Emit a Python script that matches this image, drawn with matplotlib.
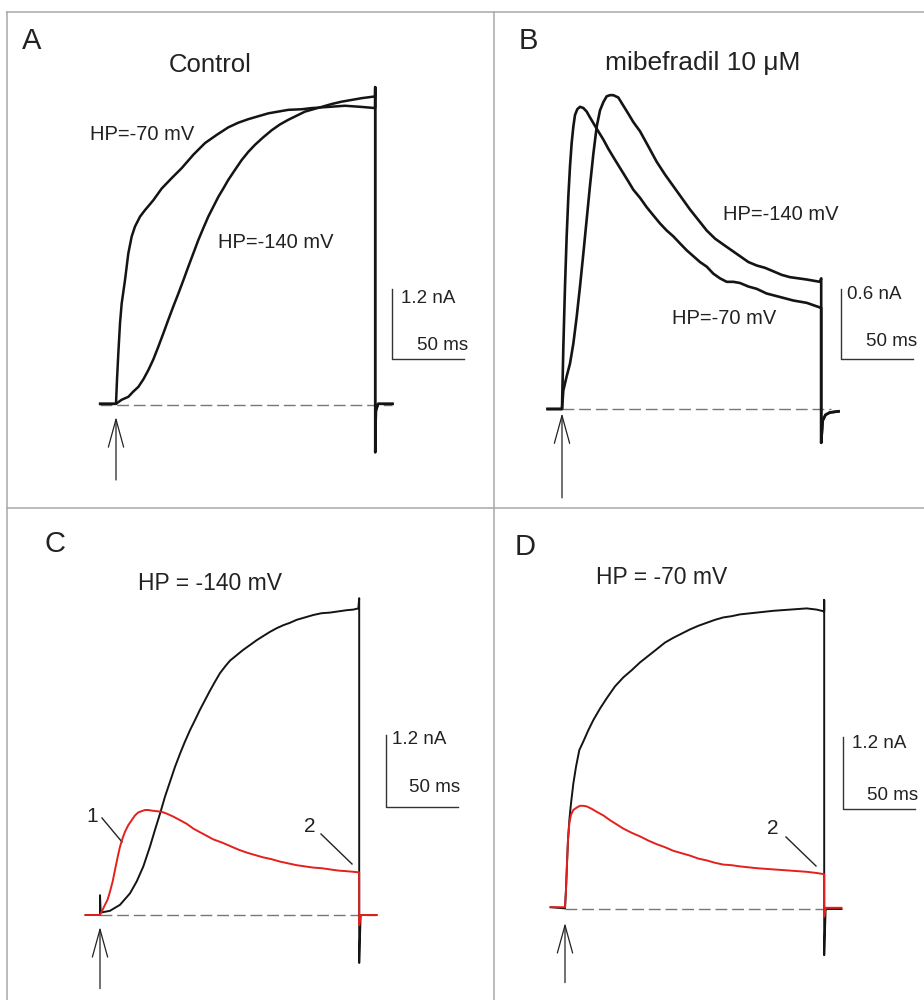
import matplotlib.pyplot as plt
from matplotlib.patches import ArrowStyle

plt.rcParams['font.family'] = ['Liberation Sans', 'DejaVu Sans']

W, H = 924, 1000
PX_MS = 1.44          # 50 ms = 72 px
BLACK = '#141414'
RED = '#e3201b'
GREY = '#777777'
TXT = '#222222'

# time in ms from the step onset, current in nA (inward current drawn upward)
# Panel A - control
a_t_140 = [-11, 0, 3.94, 8.56, 12.0, 15.5, 19.0, 22.5, 25.9, 29.4, 32.9, 36.3, 39.8, 43.3,
           46.8, 50.2, 53.7, 57.2, 60.6, 64.1, 67.6, 71.1, 74.5, 78.0, 82.6, 87.3, 91.9, 96.5,
           102.3, 108.1, 113.9, 119.7, 125.5, 131.3, 137.0, 142.8, 149.8, 156.7, 163.7, 170.6,
           179.9, 180, 180, 180.5, 182, 192]
a_i_140 = [0.02, 0.02, 0.09, 0.14, 0.23, 0.31, 0.44, 0.60, 0.78, 1.00, 1.23, 1.46, 1.69, 1.91,
           2.14, 2.37, 2.60, 2.83, 3.03, 3.23, 3.40, 3.57, 3.71, 3.86, 4.03, 4.20, 4.34, 4.46,
           4.59, 4.71, 4.81, 4.89, 4.96, 5.03, 5.07, 5.11, 5.16, 5.20, 5.23, 5.26,
           5.29, 5.45, -0.81, -0.10, 0.02, 0.02]
a_t_70 = [-11, 0, 0.69, 1.62, 2.78, 3.94, 6.25, 8.56, 10.9, 13.2, 16.7, 20.1, 25.9, 31.7, 38.7,
          45.6, 53.7, 61.8, 69.9, 78.0, 85.0, 91.9, 98.8, 105.8, 112.7, 119.7, 128.9, 135.9,
          147.5, 159.0, 170.6, 179.9, 180, 180, 180.5, 182, 192]
a_i_70 = [0.02, 0.02, 0.43, 0.89, 1.40, 1.74, 2.14, 2.60, 2.89, 3.06, 3.23, 3.34, 3.51, 3.71, 3.89,
          4.06, 4.29, 4.49, 4.63, 4.76, 4.84, 4.90, 4.95, 5.00, 5.03, 5.06, 5.07, 5.09,
          5.11, 5.13, 5.11, 5.09, 5.45, -0.81, -0.10, 0.02, 0.02]

# Panel B - mibefradil 10 uM
b_t_140 = [-10, 0, 0.93, 3.24, 5.56, 7.87, 10.2, 12.5, 14.8, 17.1, 19.4, 21.8, 24.1, 26.4, 28.7,
           31.0, 33.3, 35.6, 39.1, 42.6, 46.1, 49.5, 54.2, 60.0, 65.7, 71.5, 77.3, 83.1, 88.9,
           94.7, 100.5, 106.3, 112.0, 117.8, 123.6, 129.4, 135.2, 141.0, 146.8, 152.5, 158.3,
           164.1, 169.9, 174.5, 179.2, 180, 180, 181, 183, 186, 192]
b_i_140 = [0.0, 0.0, 0.16, 0.28, 0.39, 0.56, 0.79, 1.05, 1.33, 1.62, 1.91, 2.19, 2.42, 2.56, 2.63,
           2.68, 2.69, 2.69, 2.67, 2.60, 2.53, 2.46, 2.38, 2.25, 2.12, 2.01, 1.91, 1.81, 1.71,
           1.62, 1.53, 1.46, 1.41, 1.36, 1.31, 1.26, 1.23, 1.21, 1.18, 1.15, 1.13,
           1.12, 1.11, 1.10, 1.09, 1.12, -0.29, -0.10, -0.05, -0.03, -0.02]
b_t_70 = [-10, 0, 0.93, 2.08, 3.24, 4.40, 5.56, 6.71, 7.87, 9.03, 10.65, 12.5, 14.8, 17.1, 19.4,
          21.8, 25.2, 28.7, 32.2, 35.6, 39.1, 42.6, 46.1, 49.5, 54.2, 58.8, 63.4, 68.1, 72.7,
          77.3, 81.9, 86.6, 91.2, 95.8, 100.5, 105.1, 109.7, 114.4, 119.0, 123.6, 129.4, 135.2,
          142.1, 151.4, 160.6, 169.9, 179.2, 180, 180, 181, 183, 186, 192]
b_i_70 = [0.0, 0.0, 0.53, 1.05, 1.48, 1.82, 2.08, 2.28, 2.42, 2.52, 2.57, 2.59, 2.58, 2.55, 2.50,
          2.45, 2.38, 2.31, 2.23, 2.16, 2.09, 2.02, 1.95, 1.88, 1.81, 1.73, 1.66, 1.59, 1.53,
          1.48, 1.42, 1.36, 1.31, 1.26, 1.22, 1.16, 1.12, 1.09, 1.09, 1.08, 1.05, 1.03,
          0.99, 0.96, 0.93, 0.91, 0.87, 0.87, -0.29, -0.10, -0.05, -0.03, -0.02]

# Panel C - HP = -140 mV, control (black) and mibefradil (red)
c_t_ctl = [-10, 0, 0, 0.5, 6.94, 13.9, 20.8, 25.5, 30.1, 34.7, 38.2, 41.7, 45.1, 48.6, 52.1,
           55.6, 59.0, 62.5, 66.0, 69.4, 72.9, 76.4, 79.9, 83.3, 86.8, 90.3, 94.9, 99.5, 104.2,
           108.8, 113.4, 118.1, 122.7, 127.3, 131.9, 136.6, 142.4, 148.1, 153.9, 159.7, 165.5,
           171.3, 175.9, 179.4, 180, 180, 181, 192]
c_i_ctl = [0.0, 0.0, 0.33, 0.04, 0.07, 0.17, 0.36, 0.56, 0.81, 1.14, 1.42, 1.69, 1.97, 2.22, 2.47,
           2.69, 2.89, 3.08, 3.25, 3.42, 3.58, 3.74, 3.89, 4.03, 4.14, 4.24, 4.33, 4.42, 4.50,
           4.58, 4.65, 4.72, 4.78, 4.83, 4.87, 4.92, 4.96, 5.00, 5.03, 5.04, 5.06,
           5.08, 5.09, 5.11, 5.28, -0.80, 0.0, 0.0]
c_t_mib = [-10, 0, 1.85, 3.47, 5.32, 6.94, 8.80, 10.4, 12.3, 13.9, 15.7, 17.4, 19.7, 22.0, 24.3,
           26.6, 28.9, 31.25, 33.6, 35.9, 39.4, 42.8, 46.3, 50.9, 55.6, 60.2, 64.8, 69.4, 74.1,
           78.7, 84.5, 90.3, 96.1, 101.9, 107.6, 113.4, 119.2, 125.0, 130.8, 136.6, 142.4, 148.1,
           153.9, 159.7, 165.5, 171.3, 175.9, 180, 180, 181, 192]
c_i_mib = [0.0, 0.0, 0.09, 0.17, 0.26, 0.39, 0.56, 0.75, 0.97, 1.14, 1.28, 1.39, 1.50, 1.58, 1.66,
           1.71, 1.73, 1.75, 1.75, 1.74, 1.73, 1.72, 1.69, 1.64, 1.58, 1.52, 1.44, 1.38, 1.32,
           1.26, 1.21, 1.15, 1.09, 1.04, 1.00, 0.96, 0.93, 0.89, 0.86, 0.83, 0.81, 0.79,
           0.78, 0.76, 0.74, 0.73, 0.72, 0.71, -0.17, 0.0, 0.0]

# Panel D - HP = -70 mV, control (black) and mibefradil (red)
d_t_ctl = [-10, 0, 0.69, 1.39, 2.08, 3.01, 4.17, 5.79, 7.64, 9.95, 12.7, 16.2, 19.7, 24.3, 28.9,
           34.7, 40.5, 46.3, 52.1, 57.9, 63.7, 69.4, 75.2, 81.0, 86.8, 92.6, 98.4, 104.2, 110.0,
           115.7, 121.5, 133.1, 144.7, 156.3, 167.8, 174.8, 180, 180, 180, 181, 192]
d_i_ctl = [0.03, 0.01, 0.32, 0.76, 1.15, 1.48, 1.76, 2.09, 2.37, 2.65, 2.79, 2.98, 3.15, 3.34, 3.51,
           3.71, 3.86, 3.98, 4.11, 4.22, 4.33, 4.44, 4.52, 4.59, 4.66, 4.72, 4.77, 4.82, 4.86,
           4.88, 4.91, 4.94, 4.97, 4.99, 5.01, 4.99, 4.96, 5.15, -0.77, 0.0, 0.0]
d_t_mib = [-10, 0, 0.69, 1.39, 2.08, 3.01, 4.17, 5.79, 8.10, 10.4, 12.7, 15.05, 18.5, 22.0, 26.6,
           31.25, 35.9, 40.5, 46.3, 52.1, 57.9, 63.7, 69.4, 75.2, 81.0, 86.8, 92.6, 98.4, 104.2,
           110.0, 115.7, 121.5, 133.1, 144.7, 156.3, 167.8, 174.8, 180, 180, 181, 192]
d_i_mib = [0.03, 0.03, 0.32, 0.76, 1.15, 1.43, 1.57, 1.65, 1.69, 1.72, 1.72, 1.71, 1.67, 1.62, 1.56,
           1.48, 1.41, 1.34, 1.27, 1.21, 1.14, 1.08, 1.03, 0.97, 0.93, 0.89, 0.84, 0.81, 0.77,
           0.74, 0.73, 0.71, 0.68, 0.66, 0.64, 0.62, 0.60, 0.58, -0.13, 0.02, 0.02]

fig = plt.figure(figsize=(W / 100, H / 100), dpi=100, facecolor='white')

# panel frame lines, drawn in pixel coordinates
bg = fig.add_axes([0, 0, 1, 1])
bg.set_xlim(0, W)
bg.set_ylim(H, 0)
bg.axis('off')
frame = '#a8a8a8'
bg.plot([7, W], [12, 12], color=frame, lw=1.1)
bg.plot([7, 7], [12, H], color=frame, lw=1.1)
bg.plot([494, 494], [12, H], color=frame, lw=1.1)
bg.plot([7, W], [508, 508], color=frame, lw=1.1)


def panel_axes(x0, y0, px_na):
    # one full-figure axes per panel, step onset at pixel (x0, y0)
    ax = fig.add_axes([0, 0, 1, 1])
    ax.set_xlim(-x0 / PX_MS, (W - x0) / PX_MS)
    ax.set_ylim(-(H - y0) / px_na, y0 / px_na)
    ax.axis('off')
    ax.patch.set_alpha(0)
    return ax


def decorate(ax, dash_from, dash_to, bar_t, bar_i, bar_na, tip, length):
    ax.hlines(0, dash_from, dash_to, colors=GREY, lw=1.0, linestyles=(0, (8.5, 3.5)), zorder=1)
    ax.plot([bar_t, bar_t, bar_t + 50], [bar_i + bar_na, bar_i, bar_i], color='#333333', lw=1.0)
    ax.annotate('', xy=(0, 0), xytext=(0, -length), textcoords='offset points',
                arrowprops=dict(arrowstyle=ArrowStyle('->', head_length=2.0, head_width=0.55),
                                mutation_scale=10, lw=0.9, color='#222222',
                                shrinkA=0, shrinkB=tip))


def text(x, y, s, size, ha='center'):
    fig.text(x / W, 1 - y / H, s, ha=ha, va='center', fontsize=size, color=TXT)


# A
ax = panel_axes(116, 405, 70 / 1.2)
decorate(ax, -11, 192, 191.7, 0.79, 1.2, 8.6, 54)
ax.plot(a_t_140, a_i_140, color=BLACK, lw=1.8, zorder=3)
ax.plot(a_t_70, a_i_70, color=BLACK, lw=1.8, zorder=3)

# B
ax = panel_axes(562, 409, 70 / 0.6)
decorate(ax, 0, 187, 193.75, 0.43, 0.6, 3.0, 64)
ax.plot(b_t_140, b_i_140, color=BLACK, lw=1.9, zorder=3)
ax.plot(b_t_70, b_i_70, color=BLACK, lw=1.9, zorder=3)

# C
ax = panel_axes(100, 915, 72 / 1.2)
decorate(ax, 0, 192, 198.6, 1.8, 1.2, 8.6, 53)
ax.plot(c_t_ctl, c_i_ctl, color=BLACK, lw=1.4, zorder=3)
ax.plot(c_t_mib, c_i_mib, color=RED, lw=1.4, zorder=4)

# D
ax = panel_axes(565, 909, 72 / 1.2)
decorate(ax, 0, 183, 193.1, 1.67, 1.2, 10.0, 53)
ax.plot(d_t_ctl, d_i_ctl, color=BLACK, lw=1.4, zorder=3)
ax.plot(d_t_mib, d_i_mib, color=RED, lw=1.4, zorder=4)

# pointers for the numbered points
for (x1, y1, x2, y2) in [(102, 818, 122, 842), (321, 834, 352, 864), (786, 837, 816, 866)]:
    bg.plot([x1, x2], [y1, y2], color=TXT, lw=1.0)

# panel letters and titles
for s, x, y in [('A', 32, 41), ('B', 528, 41), ('C', 55, 544), ('D', 525, 547)]:
    text(x, y, s, 21)
text(210, 65, 'Control', 18.5)
text(703, 63, 'mibefradil 10 μM', 19)
text(210, 584, 'HP = -140 mV', 16.5)
text(662, 577, 'HP = -70 mV', 16.5)

# trace labels
text(142, 134, 'HP=-70 mV', 14.5)
text(276, 243, 'HP=-140 mV', 14.5)
text(781, 215, 'HP=-140 mV', 14.5)
text(724, 318, 'HP=-70 mV', 14.5)
text(92, 816, '1', 15)
text(310, 826, '2', 15)
text(773, 828, '2', 15)

# scale bar labels
text(401, 299, '1.2 nA', 13.5, ha='left')
text(468, 345, '50 ms', 13.5, ha='right')
text(847, 295, '0.6 nA', 13.5, ha='left')
text(917, 341, '50 ms', 13.5, ha='right')
text(392, 740, '1.2 nA', 13.5, ha='left')
text(460, 787, '50 ms', 13.5, ha='right')
text(852, 744, '1.2 nA', 13.5, ha='left')
text(918, 795, '50 ms', 13.5, ha='right')

fig.savefig('out.png', dpi=100, facecolor='white')
